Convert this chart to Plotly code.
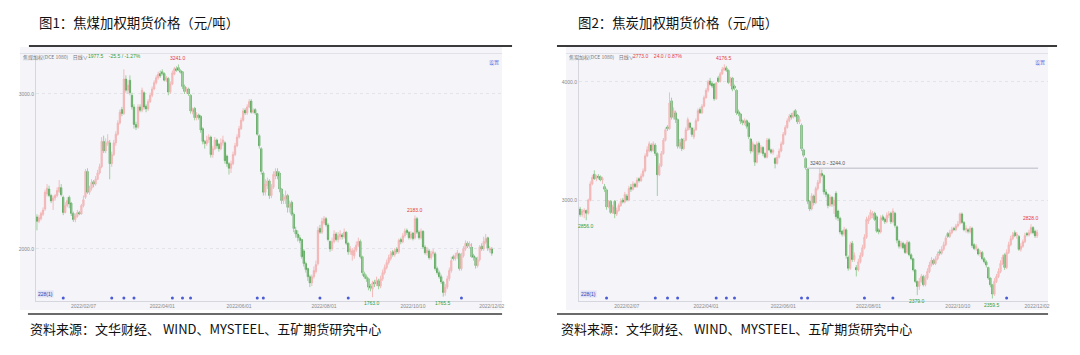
import math
import plotly.graph_objects as go

W, H = 1080, 355

# ---------------- shared axis data ----------------
date_ticks = [23, 62, 100, 142, 186, 225]
date_labels = ["2022/02/07", "2022/04/01", "2022/06/01", "2022/08/01", "2022/10/10", "2022/12/02"]
event_bars = [13, 37, 43, 48, 67, 72, 76, 109, 112, 140, 154, 210]

# ---------------- 焦煤加权 daily OHLC ----------------
coal_open = [
    2175, 2150, 2165, 2190, 2220, 2310, 2340, 2300, 2268, 2285,
    2300, 2325, 2348, 2290, 2200, 2240, 2290, 2255, 2195, 2160,
    2178, 2200, 2192, 2240, 2290, 2450, 2320, 2345, 2385, 2370,
    2400, 2440, 2480, 2650, 2585, 2640, 2640, 2500, 2560, 2640,
    2700, 2780, 2880, 2850, 3120, 3030, 3110, 2990, 2900, 2770,
    2750, 2900, 2875, 3010, 2905, 2885, 2940, 2990, 3040, 3090,
    3130, 3165, 3180, 3165, 3110, 3125, 3015, 3080, 3160, 3205,
    3215, 3190, 3180, 3060, 3020, 3040, 2990, 2862, 2890, 2820,
    2840, 2830, 2740, 2650, 2635, 2660, 2680, 2560, 2600, 2660,
    2630, 2600, 2640, 2640, 2550, 2500, 2470, 2500, 2560, 2620,
    2680, 2740, 2800, 2875, 2855, 2900, 2945, 2860, 2880, 2850,
    2690, 2600, 2440, 2320, 2360, 2390, 2300, 2350, 2420, 2450,
    2440, 2340, 2270, 2280, 2300, 2230, 2260, 2190, 2100, 2080,
    2060, 2050, 1990, 1925, 1900, 1860, 1830, 1860, 1885, 1925,
    2110, 2090, 2140, 2165, 2130, 2040, 2000, 2040, 2080, 2050,
    2065, 2075, 2065, 2090, 2030, 1985, 1970, 1965, 1995, 2020,
    2040, 1960, 1875, 1860, 1850, 1815, 1800, 1835, 1825, 1840,
    1815, 1850, 1880, 1905, 1930, 1950, 1985, 1970, 2000, 1985,
    2050, 2038, 2070, 2100, 2090, 2060, 2085, 2060, 2165, 2090,
    2060, 2095, 2010, 1980, 1990, 1955, 1975, 1975, 1900, 1880,
    1860, 1835, 1785, 1810, 1850, 1890, 1960, 1950, 1965, 1975,
    1900, 1965, 2000, 2030, 2015, 2010, 1965, 1955, 1915, 1945,
    2015, 2000, 2035, 2060, 1995, 2000,
]
coal_high = [
    2190, 2185, 2205, 2230, 2335, 2370, 2360, 2310, 2300, 2310,
    2350, 2395, 2370, 2300, 2260, 2290, 2300, 2262, 2205, 2195,
    2215, 2210, 2250, 2300, 2465, 2470, 2360, 2400, 2395, 2420,
    2460, 2500, 2680, 2690, 2670, 2700, 2660, 2580, 2660, 2720,
    2800, 2880, 2900, 3200, 3150, 3110, 3150, 3010, 2920, 2790,
    2920, 2920, 3050, 3020, 2920, 2960, 3010, 3060, 3110, 3150,
    3180, 3190, 3200, 3175, 3145, 3135, 3100, 3190, 3220, 3225,
    3241, 3200, 3185, 3075, 3055, 3050, 3000, 2895, 2900, 2860,
    2850, 2840, 2750, 2660, 2690, 2700, 2690, 2620, 2680, 2670,
    2640, 2670, 2690, 2650, 2560, 2510, 2520, 2580, 2640, 2700,
    2760, 2820, 2890, 2890, 2920, 2960, 2960, 2890, 2890, 2855,
    2700, 2610, 2450, 2400, 2410, 2400, 2370, 2450, 2470, 2470,
    2450, 2345, 2310, 2330, 2310, 2270, 2270, 2200, 2120, 2100,
    2075, 2055, 2000, 1935, 1905, 1870, 1870, 1910, 1940, 2120,
    2130, 2170, 2180, 2175, 2140, 2045, 2060, 2100, 2090, 2090,
    2100, 2085, 2110, 2095, 2035, 2015, 2005, 2010, 2040, 2060,
    2050, 1965, 1885, 1870, 1855, 1825, 1840, 1845, 1860, 1850,
    1865, 1895, 1920, 1945, 1970, 1990, 1995, 2005, 2010, 2055,
    2060, 2085, 2110, 2110, 2095, 2095, 2090, 2183, 2175, 2100,
    2110, 2100, 2020, 2010, 2000, 1990, 2000, 1985, 1910, 1890,
    1870, 1840, 1825, 1865, 1905, 1960, 1970, 1980, 1995, 1980,
    1980, 2015, 2045, 2040, 2040, 2030, 1975, 1960, 1960, 2020,
    2030, 2065, 2080, 2065, 2015, 2010,
]
coal_low = [
    2100, 2140, 2155, 2180, 2210, 2295, 2290, 2255, 2215, 2270,
    2290, 2315, 2295, 2185, 2195, 2230, 2225, 2180, 2147, 2145,
    2170, 2185, 2188, 2230, 2280, 2310, 2305, 2330, 2350, 2360,
    2395, 2430, 2470, 2570, 2570, 2620, 2400, 2480, 2550, 2620,
    2690, 2770, 2830, 2840, 3010, 3000, 2990, 2880, 2740, 2730,
    2740, 2860, 2860, 2880, 2860, 2870, 2930, 2975, 3030, 3075,
    3115, 3130, 3150, 3100, 3095, 2990, 3000, 3070, 3150, 3180,
    3185, 3165, 3040, 3000, 3005, 2985, 2850, 2845, 2800, 2800,
    2805, 2710, 2630, 2600, 2620, 2640, 2540, 2540, 2590, 2600,
    2580, 2590, 2620, 2500, 2480, 2430, 2440, 2490, 2550, 2610,
    2670, 2730, 2790, 2840, 2840, 2890, 2850, 2850, 2840, 2690,
    2600, 2430, 2300, 2300, 2340, 2280, 2285, 2340, 2400, 2400,
    2320, 2250, 2250, 2250, 2200, 2200, 2180, 2090, 2060, 2040,
    2030, 1950, 1910, 1880, 1840, 1810, 1815, 1850, 1875, 1915,
    2080, 2080, 2130, 2120, 2040, 1985, 1990, 2030, 2040, 2035,
    2050, 2050, 2055, 2020, 1970, 1970, 1940, 1950, 1985, 2010,
    1950, 1865, 1850, 1835, 1795, 1790, 1763, 1810, 1815, 1800,
    1805, 1840, 1870, 1895, 1920, 1940, 1960, 1960, 1975, 1975,
    2025, 2030, 2060, 2075, 2050, 2050, 2045, 2050, 2080, 2050,
    2050, 2000, 1970, 1965, 1945, 1945, 1960, 1890, 1870, 1850,
    1825, 1765.5, 1770, 1800, 1840, 1880, 1940, 1940, 1950, 1890,
    1890, 1955, 1990, 2005, 2005, 1955, 1940, 1900, 1905, 1935,
    1990, 1990, 2025, 1990, 1980, 1965,
]
coal_close = [
    2150, 2170, 2195, 2215, 2320, 2345, 2300, 2268, 2285, 2300,
    2330, 2350, 2305, 2200, 2240, 2270, 2250, 2195, 2160, 2180,
    2200, 2192, 2240, 2275, 2450, 2320, 2345, 2380, 2370, 2400,
    2440, 2480, 2650, 2585, 2640, 2650, 2500, 2560, 2640, 2700,
    2780, 2860, 2850, 3120, 3030, 3070, 3010, 2900, 2770, 2750,
    2900, 2875, 3030, 2900, 2885, 2940, 2990, 3040, 3090, 3130,
    3160, 3145, 3165, 3110, 3130, 3015, 3080, 3170, 3205, 3190,
    3195, 3175, 3060, 3020, 3040, 3000, 2870, 2880, 2820, 2840,
    2820, 2730, 2650, 2635, 2660, 2680, 2560, 2600, 2660, 2620,
    2600, 2640, 2660, 2520, 2500, 2470, 2500, 2560, 2620, 2680,
    2740, 2800, 2870, 2855, 2900, 2940, 2860, 2875, 2855, 2700,
    2620, 2450, 2320, 2370, 2390, 2300, 2350, 2430, 2450, 2420,
    2340, 2270, 2290, 2300, 2230, 2250, 2190, 2110, 2080, 2060,
    2045, 1960, 1925, 1895, 1860, 1830, 1860, 1890, 1920, 2100,
    2090, 2150, 2165, 2130, 2050, 2000, 2040, 2080, 2050, 2070,
    2080, 2065, 2090, 2030, 1985, 2000, 1990, 1995, 2020, 2040,
    1960, 1880, 1860, 1850, 1810, 1805, 1830, 1825, 1845, 1815,
    1850, 1880, 1905, 1930, 1955, 1975, 1970, 1990, 1985, 2045,
    2038, 2070, 2095, 2088, 2060, 2080, 2055, 2165, 2090, 2060,
    2095, 2010, 1980, 1995, 1955, 1975, 1985, 1900, 1880, 1860,
    1835, 1785, 1810, 1850, 1890, 1940, 1950, 1965, 1980, 1900,
    1965, 2000, 2030, 2015, 2025, 1960, 1955, 1915, 1945, 2010,
    2000, 2040, 2055, 2005, 2003, 1977.5,
]
coal_peaks = [70, 187]
coal_troughs = [166, 201]
coal_yticks = [2000, 3000]

# ---------------- 焦炭加权 daily OHLC ----------------
coke_open = [
    2935, 2895, 2915, 2925, 2905, 3000, 3120, 3195, 3160, 3180,
    3175, 3150, 3100, 3075, 2950, 2990, 2910, 2990, 2900, 2925,
    2960, 3000, 2985, 3030, 3000, 3095, 3080, 3120, 3100, 3160,
    3145, 3180, 3220, 3340, 3380, 3430, 3385, 3430, 3360, 3190,
    3260, 3360, 3470, 3585, 3570, 3820, 3670, 3710, 3650, 3420,
    3480, 3400, 3470, 3560, 3620, 3575, 3500, 3560, 3640, 3740,
    3710, 3770, 3850, 3920, 4010, 3985, 3980, 3840, 4040, 4005,
    4080, 4120, 4140, 4115, 3995, 4040, 3960, 3920, 3720, 3700,
    3640, 3620, 3640, 3620, 3480, 3380, 3430, 3290, 3445, 3370,
    3410, 3360, 3330, 3475, 3390, 3370, 3320, 3280, 3330, 3380,
    3440, 3520, 3580, 3640, 3690, 3670, 3730, 3690, 3630, 3600,
    3390, 3320, 3235, 2990, 2935, 3030, 2980, 3085, 3130, 3200,
    3185, 3060, 3040, 2960, 3020, 2960, 3050, 2920, 2870, 2780,
    2760, 2790, 2610, 2540, 2700, 2595, 2545, 2530, 2580, 2620,
    2670, 2740, 2850, 2870, 2890, 2905, 2880, 2790, 2775, 2880,
    2865, 2845, 2890, 2905, 2845, 2905, 2810, 2715, 2680, 2700,
    2690, 2640, 2705, 2625, 2600, 2530, 2460, 2430, 2460, 2490,
    2440, 2480, 2520, 2560, 2590, 2570, 2600, 2645, 2635, 2660,
    2690, 2765, 2745, 2770, 2800, 2790, 2815, 2835, 2900, 2840,
    2790, 2790, 2775, 2800, 2690, 2665, 2660, 2630, 2640, 2600,
    2580, 2545, 2480, 2440, 2385, 2460, 2490, 2520, 2570, 2625,
    2545, 2640, 2690, 2730, 2770, 2750, 2745, 2660, 2680, 2710,
    2765, 2755, 2770, 2805, 2780, 2749,
]
coke_high = [
    2950, 2935, 2940, 2930, 3010, 3140, 3190, 3225, 3190, 3195,
    3185, 3175, 3120, 3085, 3000, 3000, 2965, 3000, 2945, 2975,
    3010, 3015, 3060, 3045, 3105, 3120, 3140, 3130, 3170, 3170,
    3200, 3240, 3360, 3420, 3460, 3445, 3460, 3445, 3370, 3280,
    3380, 3490, 3580, 3600, 3900, 3850, 3760, 3730, 3660, 3480,
    3490, 3490, 3580, 3670, 3630, 3585, 3580, 3660, 3750, 3760,
    3790, 3870, 3940, 4020, 4040, 4000, 3990, 4000, 4060, 4100,
    4150, 4176.5, 4160, 4125, 4050, 4050, 3975, 3930, 3740, 3710,
    3650, 3660, 3650, 3630, 3490, 3460, 3440, 3460, 3460, 3430,
    3420, 3370, 3490, 3490, 3400, 3400, 3330, 3350, 3400, 3460,
    3540, 3600, 3660, 3700, 3710, 3730, 3745, 3700, 3680, 3615,
    3400, 3330, 3244, 3000, 3050, 3040, 3100, 3150, 3244, 3230,
    3195, 3080, 3050, 3040, 3030, 3020, 3065, 2930, 2880, 2790,
    2810, 2800, 2620, 2710, 2715, 2640, 2560, 2600, 2640, 2690,
    2760, 2880, 2890, 2930, 2920, 2915, 2890, 2800, 2890, 2895,
    2875, 2910, 2920, 2915, 2940, 2915, 2820, 2725, 2715, 2710,
    2700, 2720, 2715, 2635, 2605, 2535, 2465, 2480, 2505, 2500,
    2500, 2540, 2580, 2610, 2600, 2615, 2645, 2660, 2680, 2710,
    2750, 2775, 2790, 2810, 2810, 2830, 2850, 2910, 2910, 2850,
    2820, 2800, 2815, 2810, 2700, 2695, 2670, 2655, 2650, 2610,
    2590, 2550, 2485, 2445, 2480, 2505, 2540, 2590, 2625, 2635,
    2660, 2710, 2750, 2775, 2785, 2775, 2755, 2700, 2725, 2770,
    2775, 2790, 2828, 2815, 2790, 2790,
]
coke_low = [
    2880, 2880, 2870, 2856, 2895, 2990, 3110, 3150, 3140, 3155,
    3140, 3120, 3060, 2930, 2940, 2900, 2900, 2870, 2885, 2915,
    2950, 2975, 2975, 2990, 2990, 3060, 3070, 3090, 3090, 3130,
    3135, 3170, 3210, 3330, 3370, 3370, 3375, 3340, 3030, 3180,
    3250, 3350, 3460, 3550, 3560, 3650, 3650, 3620, 3400, 3400,
    3380, 3390, 3460, 3550, 3560, 3500, 3480, 3550, 3630, 3700,
    3700, 3760, 3840, 3900, 3960, 3940, 3820, 3830, 3990, 3995,
    4070, 4110, 4100, 3980, 3960, 3910, 3920, 3690, 3680, 3610,
    3600, 3600, 3570, 3480, 3360, 3370, 3260, 3280, 3350, 3360,
    3340, 3320, 3320, 3380, 3355, 3350, 3240, 3270, 3320, 3370,
    3430, 3510, 3570, 3625, 3650, 3660, 3670, 3610, 3610, 3380,
    3330, 3230, 2970, 2920, 2925, 2960, 2970, 3070, 3120, 3170,
    3040, 3020, 2940, 2950, 2950, 2900, 2860, 2850, 2760, 2745,
    2745, 2600, 2525, 2530, 2580, 2580, 2490, 2520, 2570, 2610,
    2660, 2730, 2830, 2860, 2870, 2850, 2770, 2760, 2765, 2850,
    2830, 2835, 2870, 2830, 2835, 2805, 2700, 2665, 2665, 2660,
    2630, 2630, 2615, 2590, 2520, 2450, 2379, 2410, 2450, 2430,
    2430, 2470, 2510, 2550, 2560, 2560, 2590, 2620, 2625, 2650,
    2680, 2735, 2735, 2760, 2780, 2780, 2805, 2825, 2830, 2780,
    2770, 2765, 2765, 2670, 2655, 2650, 2620, 2610, 2590, 2570,
    2545, 2470, 2425, 2359.5, 2375, 2450, 2480, 2510, 2560, 2530,
    2535, 2630, 2680, 2720, 2740, 2730, 2650, 2645, 2670, 2700,
    2745, 2745, 2760, 2760, 2735, 2735,
]
coke_close = [
    2895, 2920, 2925, 2905, 3000, 3120, 3170, 3160, 3175, 3170,
    3150, 3160, 3080, 2950, 2990, 2910, 2950, 2900, 2925, 2960,
    2990, 2985, 3040, 3000, 3085, 3080, 3120, 3100, 3150, 3145,
    3180, 3220, 3340, 3390, 3440, 3385, 3440, 3360, 3190, 3260,
    3360, 3470, 3560, 3570, 3800, 3670, 3730, 3650, 3420, 3450,
    3400, 3470, 3560, 3650, 3580, 3520, 3560, 3640, 3730, 3710,
    3770, 3850, 3920, 4000, 3975, 3960, 3840, 3990, 4005, 4080,
    4125, 4140, 4115, 3995, 4030, 3930, 3940, 3710, 3700, 3635,
    3620, 3640, 3590, 3500, 3380, 3440, 3290, 3440, 3370, 3410,
    3360, 3330, 3470, 3390, 3370, 3385, 3280, 3330, 3380, 3440,
    3520, 3580, 3640, 3680, 3670, 3710, 3680, 3630, 3650, 3400,
    3345, 3245, 2990, 2935, 3030, 2980, 3085, 3130, 3200, 3185,
    3060, 3040, 2960, 3020, 2970, 3000, 2880, 2870, 2775, 2760,
    2790, 2620, 2540, 2690, 2595, 2620, 2530, 2580, 2620, 2670,
    2740, 2860, 2870, 2910, 2900, 2860, 2780, 2775, 2870, 2860,
    2845, 2890, 2900, 2845, 2920, 2820, 2720, 2680, 2700, 2670,
    2640, 2705, 2625, 2600, 2530, 2460, 2430, 2460, 2490, 2440,
    2480, 2520, 2560, 2590, 2570, 2600, 2630, 2635, 2660, 2690,
    2735, 2745, 2770, 2790, 2790, 2815, 2830, 2900, 2840, 2790,
    2800, 2780, 2800, 2685, 2665, 2680, 2630, 2640, 2600, 2580,
    2560, 2480, 2440, 2385, 2460, 2490, 2520, 2570, 2610, 2545,
    2640, 2690, 2730, 2755, 2750, 2760, 2660, 2680, 2710, 2750,
    2755, 2770, 2805, 2770, 2749, 2773,
]
coke_peaks = [71, 222]
coke_troughs = [3, 166, 203]
coke_yticks = [3000, 4000]
coke_band = [3240.0, 3244.0]
coke_band_start = 112

# ---------------- styling ----------------
FONT_CJK = "Noto Sans CJK SC"
FONT_SMALL = "Liberation Sans"
UP_BODY, UP_EDGE, UP_WICK = "#f6b2b2", "#f09c9c", "#f4bcbc"
DN_BODY, DN_EDGE, DN_WICK = "#1a841a", "#1a841a", "#9fd09f"
RED_TXT, GRN_TXT = "#e8383d", "#2f9e3a"
PANEL_BG = "#f4f4f9"


def fx(p):
    return p / W


def fy(p):
    return 1 - p / H


panels = [
    dict(name="焦煤加权(DCE 1080)", title="图1：焦煤加权期货价格（元/吨）",
         o=coal_open, h=coal_high, l=coal_low, c=coal_close,
         peaks=coal_peaks, troughs=coal_troughs, yticks=coal_yticks,
         plot_x=(36, 503), xrange=(-0.5, 230.1),
         yrange=(3.24192, 3.52141),
         box=(20, 503), title_x=37, src_x=28, topline=(29, 513), botline=(28, 503),
         quote_x=86, setting_x=503),
    dict(name="焦炭加权(DCE 1080)", title="图2：焦炭加权期货价格（元/吨）",
         o=coke_open, h=coke_high, l=coke_low, c=coke_close,
         peaks=coke_peaks, troughs=coke_troughs, yticks=coke_yticks,
         plot_x=(580, 1050), xrange=(-0.6, 230.4),
         yrange=(3.37020, 3.63062),
         box=(567, 1050), title_x=577, src_x=560, topline=(558, 1059), botline=(558, 1050),
         quote_x=632, setting_x=1050),
]

for p in panels:
    n = len(p["o"])
    assert n == len(p["h"]) == len(p["l"]) == len(p["c"]) == 226, n

PLOT_TOP, PLOT_BOT = 55, 301

fig = go.Figure()
annotations = []
shapes = []
layout_axes = {}

for k, p in enumerate(panels):
    sfx = "" if k == 0 else str(k + 1)
    xa, ya = "x" + sfx, "y" + sfx
    ev_axis = "y" + str(k + 3)
    o, h, l, c = p["o"], p["h"], p["l"], p["c"]
    idx = list(range(len(o)))

    up = [i for i in idx if c[i] >= o[i]]
    dn = [i for i in idx if c[i] < o[i]]

    # wicks: one-sided error bars from the low up to the high
    for sel, col in ((up, UP_WICK), (dn, DN_WICK)):
        fig.add_trace(go.Scatter(
            x=sel, y=[l[i] for i in sel], mode="markers",
            marker=dict(size=1, color="rgba(0,0,0,0)"),
            error_y=dict(type="data", symmetric=False,
                         array=[h[i] - l[i] for i in sel],
                         arrayminus=[0] * len(sel),
                         color=col, thickness=1, width=0),
            xaxis=xa, yaxis=ya, hoverinfo="skip", showlegend=False))

    # candle bodies
    fig.add_trace(go.Candlestick(
        x=idx, open=o, close=c,
        high=[max(a, b) for a, b in zip(o, c)],
        low=[min(a, b) for a, b in zip(o, c)],
        increasing=dict(fillcolor=UP_BODY, line=dict(color=UP_EDGE, width=0.5)),
        decreasing=dict(fillcolor=DN_BODY, line=dict(color=DN_EDGE, width=0.5)),
        whiskerwidth=0, xaxis=xa, yaxis=ya, showlegend=False, hoverinfo="skip"))

    # event flags on the bottom strip
    fig.add_trace(go.Scatter(
        x=event_bars, y=[0.012] * len(event_bars), mode="markers",
        marker=dict(size=3, color="#4b5bd6", symbol="circle"),
        xaxis=xa, yaxis=ev_axis, hoverinfo="skip", showlegend=False))

    # price range band on the coke panel
    if k == 1:
        band_mid = sum(coke_band) / 2
        fig.add_trace(go.Scatter(
            x=[coke_band_start, idx[-1] + 0.5], y=[band_mid, band_mid], mode="lines",
            line=dict(color="#b9b9c2", width=1),
            xaxis=xa, yaxis=ya, hoverinfo="skip", showlegend=False))
        annotations.append(dict(
            x=coke_band_start, y=math.log10(band_mid), xref=xa, yref=ya,
            text=f"{coke_band[0]:.1f} - {coke_band[1]:.1f}", showarrow=False,
            xanchor="left", yanchor="bottom", yshift=0,
            font=dict(size=5, color="#555", family=FONT_SMALL)))

    dom_x = [fx(p["plot_x"][0]), fx(p["plot_x"][1])]
    dom_y = [fy(PLOT_BOT), fy(PLOT_TOP)]
    layout_axes["xaxis" + sfx] = dict(
        domain=dom_x, range=list(p["xrange"]), anchor=ya,
        tickmode="array", tickvals=date_ticks, ticktext=date_labels,
        tickfont=dict(size=5, color="#8a8a8a", family=FONT_SMALL),
        showgrid=False, zeroline=False, showline=True, linecolor="#d6d6de",
        linewidth=1, ticks="", rangeslider=dict(visible=False), fixedrange=True)
    layout_axes["yaxis" + sfx] = dict(
        domain=dom_y, type="log", range=list(p["yrange"]), anchor=xa,
        tickmode="array", tickvals=p["yticks"],
        ticktext=[f"{v:.1f}" for v in p["yticks"]],
        tickfont=dict(size=5, color="#8a8a8a", family=FONT_SMALL),
        showgrid=True, gridcolor="#e3e3ea", griddash="dot", gridwidth=1,
        zeroline=False, showline=True, linecolor="#d6d6de", linewidth=1, ticks="",
        fixedrange=True)
    layout_axes["yaxis" + str(k + 3)] = dict(
        domain=dom_y, overlaying=ya, range=[0, 1], visible=False, anchor=xa,
        fixedrange=True)

    # extreme-value labels
    for i in p["peaks"]:
        annotations.append(dict(
            x=i, y=math.log10(h[i]), xref=xa, yref=ya, text=f"{h[i]:.1f}",
            showarrow=False, yanchor="bottom", yshift=1,
            font=dict(size=5, color=RED_TXT, family=FONT_SMALL)))
    for i in p["troughs"]:
        annotations.append(dict(
            x=i, y=math.log10(l[i]), xref=xa, yref=ya, text=f"{l[i]:.1f}",
            showarrow=False, yanchor="top", yshift=-1,
            font=dict(size=5, color=GRN_TXT, family=FONT_SMALL)))

    # panel background, toolbar divider, frame lines
    bx0, bx1 = p["box"]
    shapes.append(dict(type="rect", xref="paper", yref="paper", layer="below",
                       x0=fx(bx0), x1=fx(bx1), y0=fy(310), y1=fy(47),
                       fillcolor=PANEL_BG, line=dict(width=0)))
    shapes.append(dict(type="line", xref="paper", yref="paper",
                       x0=fx(bx0), x1=fx(bx1), y0=fy(53.5), y1=fy(53.5),
                       line=dict(color="#e1e1e9", width=1)))
    tl0, tl1 = p["topline"]
    shapes.append(dict(type="line", xref="paper", yref="paper",
                       x0=fx(tl0), x1=fx(tl1), y0=fy(46), y1=fy(46),
                       line=dict(color="#3a3a3a", width=2)))
    bl0, bl1 = p["botline"]
    shapes.append(dict(type="line", xref="paper", yref="paper",
                       x0=fx(bl0), x1=fx(bl1), y0=fy(314), y1=fy(314),
                       line=dict(color="#3a3a3a", width=1.5)))

    # toolbar: instrument name and last quote
    last, prev = c[-1], c[-2]
    chg = last - prev
    pct = chg / prev * 100
    qcol = RED_TXT if chg >= 0 else GRN_TXT
    annotations.append(dict(
        x=fx(bx0 + 1), y=fy(50.5), xref="paper", yref="paper", xanchor="left",
        text=p["name"] + "    日线∨", showarrow=False,
        font=dict(size=5, color="#777", family=FONT_CJK)))
    annotations.append(dict(
        x=fx(p["quote_x"]), y=fy(50.5), xref="paper", yref="paper", xanchor="left",
        text=f"{last:.1f}    {chg:.1f} / {pct:.2f}%", showarrow=False,
        font=dict(size=5, color=qcol, family=FONT_SMALL)))
    annotations.append(dict(
        x=fx(p["setting_x"] - 1), y=fy(56), xref="paper", yref="paper", xanchor="right",
        text="设置", showarrow=False,
        font=dict(size=5, color="#5b6ee0", family=FONT_CJK)))
    annotations.append(dict(
        x=fx(p["plot_x"][0] + 1), y=fy(298), xref="paper", yref="paper", xanchor="left",
        text="228(1)", showarrow=False, bgcolor="#dfe2f4",
        font=dict(size=5, color="#3846b4", family=FONT_SMALL), borderpad=0))

    # title and source line
    annotations.append(dict(
        x=fx(p["title_x"]), y=fy(22), xref="paper", yref="paper",
        xanchor="left", yanchor="middle", text=p["title"], showarrow=False,
        font=dict(size=13.4, color="#111", family=FONT_CJK)))
    annotations.append(dict(
        x=fx(p["src_x"]), y=fy(328), xref="paper", yref="paper",
        xanchor="left", yanchor="middle",
        text="资料来源：文华财经、 WIND、MYSTEEL、五矿期货研究中心", showarrow=False,
        font=dict(size=13, color="#111", family=FONT_CJK)))

fig.update_layout(
    width=W, height=H, margin=dict(l=0, r=0, t=0, b=0),
    paper_bgcolor="white", plot_bgcolor=PANEL_BG,
    showlegend=False, boxgap=0.05, hovermode=False,
    annotations=annotations, shapes=shapes,
    **layout_axes)

fig.write_html("out.html")
